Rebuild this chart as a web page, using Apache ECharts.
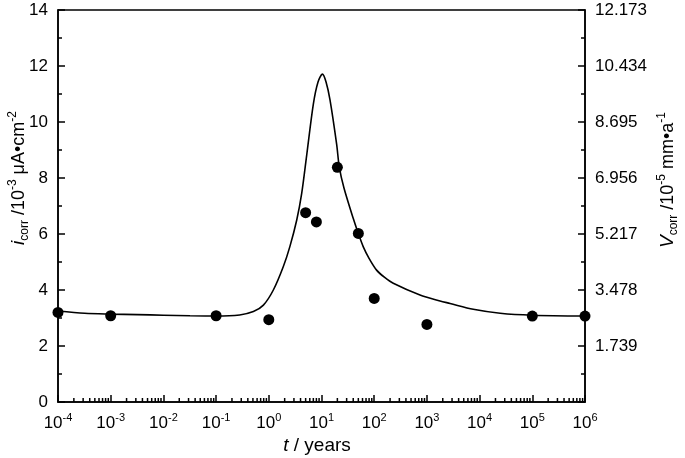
<!DOCTYPE html>
<html>
<head>
<meta charset="utf-8">
<script src="https://cdn.jsdelivr.net/npm/echarts@6/dist/echarts.min.js"></script>
<style>
html,body{margin:0;padding:0;background:#fff;}
#chart{width:685px;height:458px;}
</style>
</head>
<body>
<div id="chart"></div>
<script>
// Fitted curve (t in years, i_corr in 10^-3 µA·cm^-2)
const curveT = [1e-4, 3.2e-4, 1e-3, 3.2e-3, 0.01, 0.032, 0.1, 0.28, 0.51, 0.79, 1.22, 1.88, 2.51, 3.39, 4.21, 5.24, 7.0, 8.59, 10.4, 12.2, 14.5, 19.4, 21.8, 26.7, 40.1, 49.9, 62.1, 79.4, 111, 158, 230, 740, 1775, 2754, 7586, 24547, 1e5, 1e6];
const curveI = [3.25, 3.17, 3.14, 3.12, 3.10, 3.08, 3.07, 3.11, 3.23, 3.46, 4.0, 4.83, 5.55, 6.5, 7.45, 8.82, 10.64, 11.43, 11.71, 11.43, 10.79, 9.2, 8.38, 7.64, 6.55, 6.02, 5.54, 5.14, 4.71, 4.45, 4.24, 3.82, 3.61, 3.52, 3.31, 3.17, 3.10, 3.07];
// Measured points
const pointT = [1e-4, 1e-3, 0.1, 1, 5, 8, 20, 50, 100, 1000, 1e5, 1e6];
const pointI = [3.2, 3.08, 3.08, 2.94, 6.76, 6.43, 8.38, 6.02, 3.70, 2.77, 3.07, 3.07];
// Axis settings
const xMinExp = -4, xMaxExp = 6;
const leftMax = 14, leftStep = 2;
const rightMax = 12.173, rightStep = 1.739;
const minorMultipliers = [2, 3, 4, 5, 6, 7, 8, 9];

const xMinorTicks = [];
for (let e = xMinExp; e < xMaxExp; e++) {
  minorMultipliers.forEach(m => xMinorTicks.push(m * Math.pow(10, e)));
}

const FONT = 'Liberation Sans, Arial, sans-serif';
const chart = echarts.init(document.getElementById('chart'), null, {renderer: 'canvas'});

const titleRich = {
  it: {fontSize: 19, fontStyle: 'italic', fontFamily: FONT, fill: '#000', lineHeight: 24},
  sub: {fontSize: 12, fontFamily: FONT, fill: '#000', verticalAlign: 'bottom', lineHeight: 14},
  sup: {fontSize: 12, fontFamily: FONT, fill: '#000', verticalAlign: 'top', lineHeight: 14}
};

const option = {
  animation: false,
  backgroundColor: '#fff',
  textStyle: {fontFamily: FONT, color: '#000'},
  grid: {left: 58, right: 100, top: 10, bottom: 56, show: true, borderColor: '#000', borderWidth: 1.5, backgroundColor: 'transparent'},
  xAxis: {
    type: 'log', logBase: 10, min: Math.pow(10, xMinExp), max: Math.pow(10, xMaxExp), splitNumber: 10,
    axisLine: {lineStyle: {color: '#000', width: 1.5}},
    axisTick: {inside: true, length: 7, lineStyle: {color: '#000', width: 1.5}},
    splitLine: {show: false},
    axisLabel: {
      margin: 10, color: '#000',
      formatter: v => '{b|10}{s|' + Math.round(Math.log10(v)) + '}',
      rich: {
        b: {fontSize: 17, fontFamily: FONT, color: '#000', lineHeight: 22},
        s: {fontSize: 11, fontFamily: FONT, color: '#000', verticalAlign: 'top', lineHeight: 14}
      }
    }
  },
  yAxis: [{
    type: 'value', min: 0, max: leftMax, interval: leftStep, position: 'left',
    axisLine: {show: true, lineStyle: {color: '#000', width: 1.5}},
    axisTick: {show: true, inside: true, length: 7, lineStyle: {color: '#000', width: 1.5}},
    minorTick: {show: true, splitNumber: 2, length: 4, lineStyle: {color: '#000', width: 1.5}},
    splitLine: {show: false},
    axisLabel: {margin: 10, fontSize: 17, color: '#000', fontFamily: FONT}
  }, {
    type: 'value', min: 0, max: rightMax, interval: rightStep, position: 'right',
    axisLine: {show: true, lineStyle: {color: '#000', width: 1.5}},
    axisTick: {show: true, inside: true, length: 7, lineStyle: {color: '#000', width: 1.5}},
    minorTick: {show: true, splitNumber: 2, length: 4, lineStyle: {color: '#000', width: 1.5}},
    splitLine: {show: false},
    axisLabel: {margin: 10, fontSize: 17, color: '#000', fontFamily: FONT,
      formatter: v => v < 0.01 ? '' : v.toFixed(3)}
  }],
  series: [{
    type: 'line', smooth: 0.3, showSymbol: false, symbol: 'none',
    data: curveT.map((t, k) => [t, curveI[k]]),
    lineStyle: {color: '#000', width: 1.6}, z: 3
  }, {
    type: 'scatter', symbol: 'circle', symbolSize: 11,
    data: pointT.map((t, k) => [t, pointI[k]]),
    itemStyle: {color: '#000', opacity: 1}, z: 4, clip: false
  }, {
    type: 'custom', silent: true, clip: false, z: 5,
    data: xMinorTicks.map(v => [v, 0]),
    renderItem: (params, api) => {
      const p = api.coord([api.value(0), 0]);
      return {type: 'line', shape: {x1: p[0], y1: p[1], x2: p[0], y2: p[1] - 4},
        style: {stroke: '#000', lineWidth: 1.5}};
    }
  }],
  graphic: [{
    type: 'text', x: 317, y: 446,
    style: {
      text: '{it|t} / years', align: 'center', verticalAlign: 'middle',
      rich: {it: {fontSize: 19, fontStyle: 'italic', fontFamily: FONT, fill: '#000'}},
      fontSize: 19, fontFamily: FONT, fill: '#000'
    }
  }, {
    type: 'text', x: 19, y: 178, rotation: Math.PI / 2,
    style: {
      text: '{it|i}{sub|corr} /10{sup|-3} μA•cm{sup|-2}', align: 'center', verticalAlign: 'middle',
      fontSize: 18, fontFamily: FONT, fill: '#000', rich: titleRich
    }
  }, {
    type: 'text', x: 668, y: 180, rotation: Math.PI / 2,
    style: {
      text: '{it|V}{sub|corr} /10{sup|-5} mm•a{sup|-1}', align: 'center', verticalAlign: 'middle',
      fontSize: 18, fontFamily: FONT, fill: '#000', rich: titleRich
    }
  }]
};
chart.setOption(option);
</script>
</body>
</html>
